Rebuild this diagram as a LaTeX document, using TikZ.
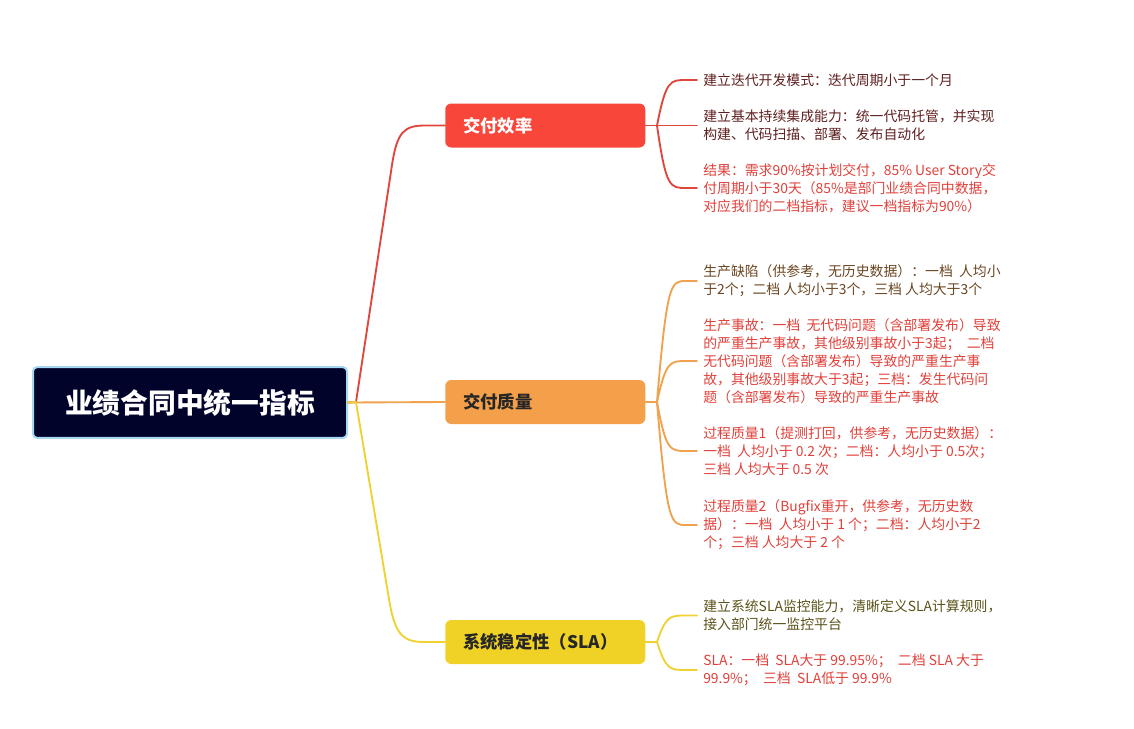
\documentclass[tikz,border=0pt]{standalone}
\usepackage{fontspec}
\setmainfont{Noto Sans CJK SC}
\definecolor{rootfill}{HTML}{02032A}
\definecolor{rootline}{HTML}{A6D8F2}
\definecolor{cred}{HTML}{F8463B}
\definecolor{corange}{HTML}{F4A04B}
\definecolor{cyellow}{HTML}{F0D227}
\definecolor{lred}{HTML}{E0473C}
\definecolor{lorange}{HTML}{F0A24F}
\definecolor{lyellow}{HTML}{EFD232}
\definecolor{tmaroon}{HTML}{5E1F1F}
\definecolor{tbrown}{HTML}{6A4520}
\definecolor{tolive}{HTML}{5A5218}
\definecolor{tred}{HTML}{E0403A}
\tikzset{
  rootbox/.style={draw=rootline, line width=1.5pt, fill=rootfill, rounded corners=3pt,
    minimum width=235.5pt, minimum height=53pt, text=white,
    font=\fontsize{20.8}{24}\selectfont\bfseries},
  branchbox/.style={anchor=west, rounded corners=4.5pt, minimum height=33pt,
    text width=123pt, inner xsep=13.5pt, align=left,
    font=\fontsize{13}{15}\selectfont\bfseries},
  leaf/.style={anchor=west, inner xsep=4.5pt, inner ysep=0pt, align=left,
    font=\fontsize{10.4}{13.5}\selectfont},
  conn/.style={line width=1.4pt, line cap=round, line join=round},
}
\begin{document}
\begin{tikzpicture}[x=0.75pt,y=-0.75pt]
\useasboundingbox (0,0) rectangle (1134,728);

% root
\node[rootbox] (root) at (190,402.5) {业绩合同中统一指标};

% branches
\node[branchbox, fill=cred, text=white] (b1) at (445,125.5) {交付效率};
\node[branchbox, fill=corange, text=black!85] (b2) at (445,402) {交付质量};
\node[branchbox, fill=cyellow, text=black!85] (b3) at (445,642) {系统稳定性（SLA）};

% root connectors
\coordinate (r0) at (356,402);
\draw[conn, lorange] (root.east) -- (b2.west);
\draw[conn, lred] (root.east) -- (r0) -- (392,165) .. controls (397,132) and (404,125.5) .. (425,125.5) -- (b1.west);
\draw[conn, lyellow] (root.east) -- (r0) -- (390,605) .. controls (396,636) and (404,642) .. (425,642) -- (b3.west);

% leaves - red
\node[leaf, text=tmaroon] (l11) at (697,80) {建立迭代开发模式：迭代周期小于一个月};
\node[leaf, text=tmaroon] (l12) at (697,125.5) {建立基本持续集成能力：统一代码托管，并实现\\构建、代码扫描、部署、发布自动化};
\node[leaf, text=tred] (l13) at (697,188) {结果：需求90\%按计划交付，85\% User Story交\\付周期小于30天（85\%是部门业绩合同中数据，\\对应我们的二档指标，建议一档指标为90\%）};

% leaves - orange
\node[leaf, text=tbrown] (l21) at (697,281) {生产缺陷（供参考，无历史数据）：一档~ 人均小\\于2个；二档 人均小于3个，三档 人均大于3个};
\node[leaf, text=tred] (l22) at (697,361) {生产事故：一档~ 无代码问题（含部署发布）导致\\的严重生产事故，其他级别事故小于3起；~ 二档\\无代码问题（含部署发布）导致的严重生产事\\故，其他级别事故大于3起；三档：发生代码问\\题（含部署发布）导致的严重生产事故};
\node[leaf, text=tred] (l23) at (697,451) {过程质量1（提测打回，供参考，无历史数据）：\\一档~ 人均小于 0.2 次；二档：人均小于 0.5次；\\三档 人均大于 0.5 次};
\node[leaf, text=tred] (l24) at (697,525) {过程质量2（Bugfix重开，供参考，无历史数\\据）：一档~ 人均小于 1 个；二档：人均小于2\\个；三档 人均大于 2 个};

% leaves - yellow
\node[leaf, text=tolive] (l31) at (697,615.5) {建立系统SLA监控能力，清晰定义SLA计算规则，\\接入部门统一监控平台};
\node[leaf, text=tred] (l32) at (697,670) {SLA：一档~ SLA大于 99.95\%；~ 二档 SLA 大于\\99.9\%；~ 三档~ SLA低于 99.9\%};

% branch-to-leaf connectors
\coordinate (j1) at (657,125.5);
\coordinate (j2) at (657,402);
\coordinate (j3) at (657,642);
\draw[conn, lred] (b1.east) -- (j1) -- (l12.west);
\draw[conn, lred] (j1) .. controls (666,80) and (670,80) .. (686,80) -- (l11.west);
\draw[conn, lred] (j1) .. controls (666,188) and (670,188) .. (686,188) -- (l13.west);

\draw[conn, lorange] (b2.east) -- (j2);
\draw[conn, lorange] (j2) .. controls (667,281) and (671,281) .. (686,281) -- (l21.west);
\draw[conn, lorange] (j2) .. controls (666,361) and (670,361) .. (686,361) -- (l22.west);
\draw[conn, lorange] (j2) .. controls (666,451) and (670,451) .. (686,451) -- (l23.west);
\draw[conn, lorange] (j2) .. controls (667,525) and (671,525) .. (686,525) -- (l24.west);

\draw[conn, lyellow] (b3.east) -- (j3);
\draw[conn, lyellow] (j3) .. controls (666,615.5) and (670,615.5) .. (686,615.5) -- (l31.west);
\draw[conn, lyellow] (j3) .. controls (666,670) and (670,670) .. (686,670) -- (l32.west);
\end{tikzpicture}
\end{document}
